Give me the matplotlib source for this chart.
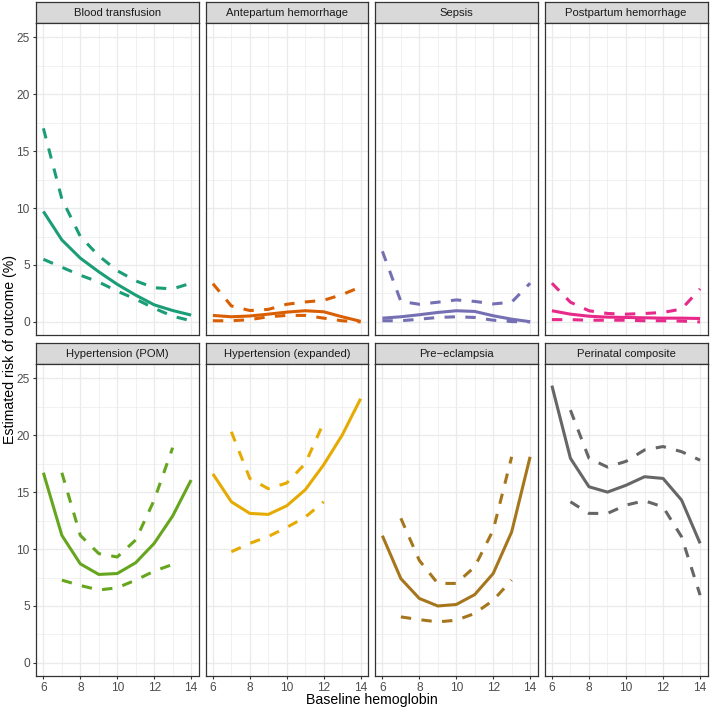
import numpy as np
import matplotlib
matplotlib.use("Agg")
import matplotlib.pyplot as plt

plt.rcParams["font.family"] = ["Liberation Sans", "DejaVu Sans"]

hb = [6, 7, 8, 9, 10, 11, 12, 13, 14]
hb_inner = [7, 8, 9, 10, 11, 12, 13]

titles = ["Blood transfusion", "Antepartum hemorrhage", "Sepsis", "Postpartum hemorrhage",
          "Hypertension (POM)", "Hypertension (expanded)", "Pre\u2212eclampsia", "Perinatal composite"]
colors = ["#1B9E77", "#D95F02", "#7570B3", "#E7298A", "#66A61E", "#E6AB02", "#A6761D", "#666666"]

# top row: estimate and bounds over 6..14
transfusion_est = [9.7, 7.2, 5.6, 4.4, 3.3, 2.35, 1.5, 1.0, 0.6]
transfusion_hi = [17.0, 10.8, 7.5, 5.8, 4.5, 3.6, 3.0, 2.9, 3.4]
transfusion_lo = [5.5, 4.8, 4.1, 3.5, 2.7, 2.0, 1.2, 0.5, 0.1]

antepartum_est = [0.57, 0.45, 0.52, 0.68, 0.86, 0.98, 0.89, 0.45, 0.05]
antepartum_hi = [3.36, 1.4, 1.0, 1.1, 1.55, 1.75, 1.9, 2.4, 3.07]
antepartum_lo = [0.1, 0.1, 0.2, 0.45, 0.57, 0.57, 0.33, 0.1, 0.0]

sepsis_est = [0.33, 0.45, 0.63, 0.83, 0.98, 0.92, 0.54, 0.24, 0.02]
sepsis_hi = [6.2, 1.8, 1.55, 1.73, 1.93, 1.8, 1.58, 1.73, 3.4]
sepsis_lo = [0.1, 0.1, 0.24, 0.39, 0.45, 0.39, 0.15, 0.03, 0.0]

postpartum_est = [0.98, 0.68, 0.5, 0.42, 0.39, 0.36, 0.33, 0.33, 0.3]
postpartum_hi = [3.4, 1.73, 0.98, 0.74, 0.68, 0.74, 0.83, 1.13, 2.9]
postpartum_lo = [0.2, 0.2, 0.15, 0.15, 0.15, 0.1, 0.1, 0.07, 0.0]

# bottom row: estimate over 6..14, bounds over 7..13 (or 7..14)
htn_pom_est = [16.7, 11.2, 8.7, 7.77, 7.85, 8.8, 10.5, 12.9, 16.06]
htn_pom_hi = [16.7, 11.2, 9.6, 9.3, 10.8, 14.3, 18.9]
htn_pom_lo = [7.27, 6.8, 6.4, 6.6, 7.27, 8.06, 8.65]

htn_exp_est = [16.6, 14.15, 13.13, 13.04, 13.8, 15.2, 17.4, 20.0, 23.2]
htn_exp_hi = [20.3, 16.2, 15.3, 15.8, 17.5, 21.1]
htn_exp_lo = [9.76, 10.5, 11.1, 11.9, 12.8, 14.15]

preecl_est = [11.17, 7.4, 5.66, 5.0, 5.13, 6.0, 7.85, 11.5, 18.1]
preecl_hi = [12.7, 9.0, 6.98, 6.98, 8.44, 11.66, 18.1]
preecl_lo = [4.04, 3.8, 3.6, 3.75, 4.34, 5.5, 7.27]

perinatal_est = [24.35, 17.97, 15.47, 15.0, 15.6, 16.35, 16.2, 14.3, 10.5]
perinatal_hi = [22.2, 17.97, 17.2, 17.7, 18.7, 19.0, 18.55, 17.8]
perinatal_lo = [14.15, 13.13, 13.13, 13.86, 14.24, 13.7, 11.08, 5.95]

panels = [
    (hb, transfusion_est, hb, transfusion_hi, transfusion_lo),
    (hb, antepartum_est, hb, antepartum_hi, antepartum_lo),
    (hb, sepsis_est, hb, sepsis_hi, sepsis_lo),
    (hb, postpartum_est, hb, postpartum_hi, postpartum_lo),
    (hb, htn_pom_est, hb_inner, htn_pom_hi, htn_pom_lo),
    (hb, htn_exp_est, hb_inner[:6], htn_exp_hi, htn_exp_lo),
    (hb, preecl_est, hb_inner, preecl_hi, preecl_lo),
    (hb, perinatal_est, hb_inner + [14], perinatal_hi, perinatal_lo),
]

W, H = 711, 710
fig = plt.figure(figsize=(W / 100, H / 100), dpi=100)


def rect(l, t, r, b):
    return [l / W, 1 - b / H, (r - l) / W, (b - t) / H]


col_edges = [(36, 198.5), (205.5, 368), (375, 537.5), (544.5, 707.5)]
row_edges = [(2, 23, 335), (343, 364, 676)]
border = "#333333"

for i, (x, est, xb, hi, lo) in enumerate(panels):
    r, c = divmod(i, 4)
    l, rr = col_edges[c]
    st, pt, pb = row_edges[r]

    sax = fig.add_axes(rect(l, st, rr, pt))
    sax.set_facecolor("#d9d9d9")
    sax.set_xticks([])
    sax.set_yticks([])
    for sp in sax.spines.values():
        sp.set_color(border)
        sp.set_linewidth(0.9)
    sax.text(0.5, 0.47, titles[i], ha="center", va="center", fontsize=8.1,
             color="#1a1a1a", transform=sax.transAxes)

    ax = fig.add_axes(rect(l, pt, rr, pb))
    ax.set_xlim(5.6, 14.4)
    ax.set_ylim(-1.15, 26.25)
    ax.set_xticks([6, 8, 10, 12, 14])
    ax.set_xticks([7, 9, 11, 13], minor=True)
    ax.set_yticks([0, 5, 10, 15, 20, 25])
    ax.set_yticks([2.5, 7.5, 12.5, 17.5, 22.5], minor=True)
    ax.grid(which="major", color="#ebebeb", linewidth=1.0)
    ax.grid(which="minor", color="#ebebeb", linewidth=0.5)
    ax.set_axisbelow(True)
    for sp in ax.spines.values():
        sp.set_color(border)
        sp.set_linewidth(0.9)
    ax.tick_params(which="minor", length=0)
    ax.tick_params(which="major", length=2.5, width=0.8, color=border,
                   labelsize=8.6, labelcolor="#4d4d4d", pad=2)
    if r == 0:
        ax.tick_params(axis="x", which="major", length=0, labelbottom=False)
    if c != 0:
        ax.tick_params(axis="y", which="major", length=0, labelleft=False)

    ax.plot(x, est, color=colors[i], linewidth=2.2, solid_capstyle="butt")
    ax.plot(xb, hi, color=colors[i], linewidth=2.2, dashes=(3.4, 3.4))
    ax.plot(xb, lo, color=colors[i], linewidth=2.2, dashes=(3.4, 3.4))

fig.text(372 / W, 1 - 700 / H, "Baseline hemoglobin", ha="center", va="center", fontsize=10.2)
fig.text(10 / W, 1 - 349 / H, "Estimated risk of outcome (%)", ha="center", va="center",
         rotation=90, fontsize=10.2)

fig.savefig("out.png", dpi=100)
